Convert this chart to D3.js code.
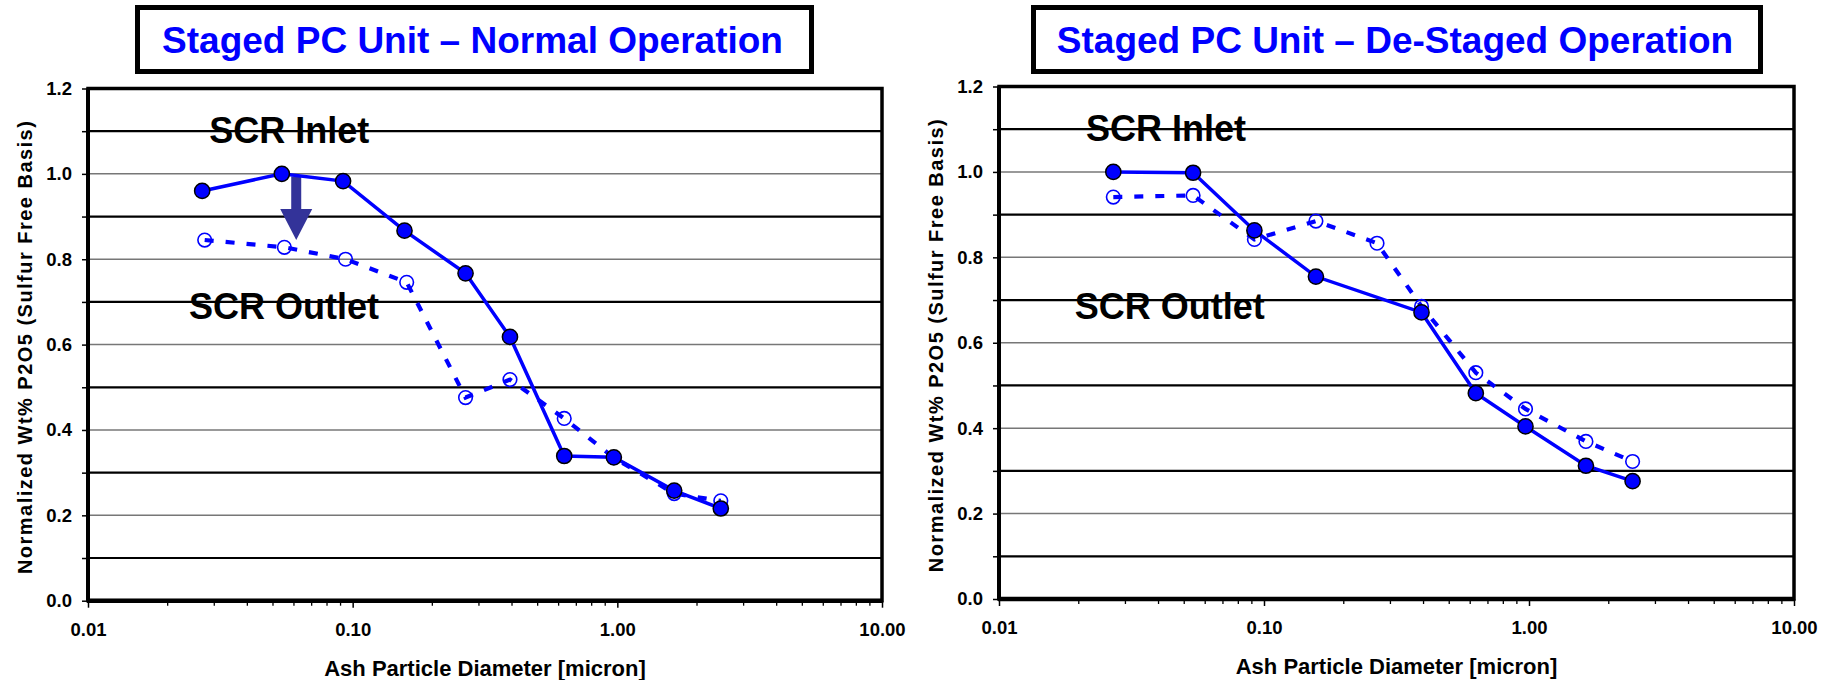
<!DOCTYPE html>
<html>
<head>
<meta charset="utf-8">
<script src="https://cdn.jsdelivr.net/npm/d3@7"></script>
<style>
  html, body { margin: 0; padding: 0; background: #ffffff; }
  svg { display: block; }
  text { font-family: "Liberation Sans", Arial, sans-serif; font-weight: bold; }
</style>
</head>
<body>
<svg id="chart" width="1824" height="680"></svg>
<script>
// Particle diameters (micron) for each impactor stage
const inletDiameters = [0.027, 0.054, 0.092, 0.157, 0.267, 0.393, 0.63, 0.97, 1.64, 2.46];
const outletDiameters = [0.0276, 0.0552, 0.094, 0.16, 0.267, 0.393, 0.63, 0.97, 1.64, 2.46];
const destagedInletDiameters = [0.027, 0.054, 0.092, 0.157, 0.393, 0.63, 0.97, 1.64, 2.46];

// Normalized wt% P2O5, normal (staged) operation
const normalInlet = [0.960, 1.000, 0.983, 0.867, 0.767, 0.618, 0.339, 0.336, 0.258, 0.216];
const normalOutlet = [0.845, 0.828, 0.800, 0.746, 0.476, 0.518, 0.427, 0.335, 0.251, 0.234];

// Normalized wt% P2O5, de-staged operation
const destagedInlet = [1.000, 0.998, 0.863, 0.755, 0.671, 0.482, 0.404, 0.312, 0.276];
const destagedOutlet = [0.941, 0.945, 0.842, 0.885, 0.833, 0.685, 0.530, 0.445, 0.369, 0.322];

// Axis ticks
const yTicks = [0.0, 0.2, 0.4, 0.6, 0.8, 1.0, 1.2];
const yGrid = [0.1, 0.2, 0.3, 0.4, 0.5, 0.6, 0.7, 0.8, 0.9, 1.0, 1.1];
const xTicks = [0.01, 0.1, 1, 10];

const panelTitles = ["Staged PC Unit \u2013 Normal Operation", "Staged PC Unit \u2013 De-Staged Operation"];
const xTitle = "Ash Particle Diameter [micron]";
const yTitle = "Normalized Wt% P2O5 (Sulfur Free Basis)";
const inletLabel = "SCR Inlet";
const outletLabel = "SCR Outlet";

const blue = "#0000ff";
const svg = d3.select("#chart");

function drawPanel(cfg) {
  const g = svg.append("g");
  const x = d3.scaleLog().domain([0.01, 10]).range([cfg.left, cfg.right]);
  const y = d3.scaleLinear().domain([0, 1.2]).range([cfg.bottom, cfg.top]);

  // Title box
  g.append("rect")
    .attr("x", cfg.boxX0 + 2.5).attr("y", 7.5)
    .attr("width", cfg.boxX1 - cfg.boxX0 - 5).attr("height", 64)
    .attr("fill", "#fff").attr("stroke", "#000").attr("stroke-width", 5);
  g.append("text")
    .attr("x", (cfg.boxX0 + cfg.boxX1) / 2 - 2).attr("y", 53)
    .attr("text-anchor", "middle")
    .attr("font-size", 37).attr("fill", blue)
    .text(cfg.title);

  // Horizontal gridlines
  g.append("g").selectAll("line").data(yGrid).join("line")
    .attr("x1", cfg.left).attr("x2", cfg.right)
    .attr("y1", d => y(d)).attr("y2", d => y(d))
    .attr("stroke", d => Math.round(d * 10) % 2 === 1 ? "#000" : "#777")
    .attr("stroke-width", d => Math.round(d * 10) % 2 === 1 ? 2.2 : 1.5);

  // Y axis
  const yAxis = d3.axisLeft(y)
    .tickValues(d3.range(0, 13).map(i => i / 10))
    .tickSize(6)
    .tickFormat(d => yTicks.some(t => Math.abs(t - d) < 1e-9) ? d3.format(".1f")(d) : "");
  const ya = g.append("g").attr("transform", `translate(${cfg.left},0)`).call(yAxis);
  ya.select(".domain").remove();
  ya.selectAll(".tick line").attr("stroke", "#000").attr("stroke-width", 1.5);
  ya.selectAll(".tick text").attr("font-size", 18.5).attr("fill", "#000").attr("x", -16)
    .style("font-family", "'Liberation Sans', Arial, sans-serif").style("font-weight", "bold");

  // X axis (log) with minor ticks
  const minor = [];
  for (let e = -2; e < 1; e++) for (let m = 2; m <= 9; m++) minor.push(m * Math.pow(10, e));
  g.append("g").selectAll("line").data(minor).join("line")
    .attr("x1", d => x(d)).attr("x2", d => x(d))
    .attr("y1", cfg.bottom).attr("y2", cfg.bottom + 5)
    .attr("stroke", "#000").attr("stroke-width", 1.3);
  const xAxis = d3.axisBottom(x).tickValues(xTicks).tickSize(7).tickFormat(d3.format(".2f"));
  const xa = g.append("g").attr("transform", `translate(0,${cfg.bottom})`).call(xAxis);
  xa.select(".domain").remove();
  xa.selectAll(".tick line").attr("stroke", "#000").attr("stroke-width", 1.5);
  xa.selectAll(".tick text").attr("font-size", 18.5).attr("fill", "#000").attr("dy", 0).attr("y", 35)
    .style("font-family", "'Liberation Sans', Arial, sans-serif").style("font-weight", "bold");

  // Plot frame
  g.append("rect")
    .attr("x", cfg.left).attr("y", cfg.top)
    .attr("width", cfg.right - cfg.left).attr("height", cfg.bottom - cfg.top)
    .attr("fill", "none").attr("stroke", "#000").attr("stroke-width", 3.5);
  g.append("line")
    .attr("x1", cfg.left - 1).attr("x2", cfg.right + 1)
    .attr("y1", cfg.bottom).attr("y2", cfg.bottom)
    .attr("stroke", "#000").attr("stroke-width", 4.5);
  g.append("line")
    .attr("x1", cfg.left).attr("x2", cfg.left)
    .attr("y1", cfg.top).attr("y2", cfg.bottom)
    .attr("stroke", "#000").attr("stroke-width", 4);

  // Axis titles
  g.append("text")
    .attr("x", (cfg.left + cfg.right) / 2).attr("y", cfg.bottom + 75)
    .attr("text-anchor", "middle").attr("font-size", 22).attr("fill", "#000")
    .text(xTitle);
  g.append("text")
    .attr("transform", `translate(${cfg.left - 56},${(cfg.top + cfg.bottom) / 2 + 3}) rotate(-90)`)
    .attr("text-anchor", "middle").attr("font-size", 20).attr("fill", "#000")
    .attr("textLength", 453).attr("lengthAdjust", "spacing")
    .text(yTitle);

  // Annotation labels
  g.append("text").attr("x", x(cfg.inletLabelAt[0])).attr("y", y(cfg.inletLabelAt[1]))
    .attr("font-size", 36).attr("fill", "#000").text(inletLabel);
  g.append("text").attr("x", x(cfg.outletLabelAt[0])).attr("y", y(cfg.outletLabelAt[1]))
    .attr("font-size", 36).attr("fill", "#000").text(outletLabel);

  // Outlet series: dashed line with open circles
  const outletPts = cfg.outletX.map((d, i) => [d, cfg.outlet[i]]);
  const line = d3.line().x(d => x(d[0])).y(d => y(d[1]));
  g.append("path").datum(outletPts).attr("d", line)
    .attr("fill", "none").attr("stroke", blue).attr("stroke-width", 4.2)
    .attr("stroke-dasharray", "9,12");
  g.append("g").selectAll("circle").data(outletPts).join("circle")
    .attr("cx", d => x(d[0])).attr("cy", d => y(d[1])).attr("r", 6.8)
    .attr("fill", "none").attr("stroke", blue).attr("stroke-width", 1.6);

  // Optional arrow from inlet toward outlet
  if (cfg.arrow) {
    const ax = x(cfg.arrow.x), y0 = y(cfg.arrow.from), y1 = y(cfg.arrow.to);
    const hw = 16, sw = 5, hl = 31;
    g.append("path")
      .attr("d", `M${ax - sw},${y0} L${ax + sw},${y0} L${ax + sw},${y1 - hl} L${ax + hw},${y1 - hl} L${ax},${y1} L${ax - hw},${y1 - hl} L${ax - sw},${y1 - hl} Z`)
      .attr("fill", "#333399");
  }

  // Inlet series: solid line with filled circles
  const inletPts = cfg.inletX.map((d, i) => [d, cfg.inlet[i]]);
  g.append("path").datum(inletPts).attr("d", line)
    .attr("fill", "none").attr("stroke", blue).attr("stroke-width", 3.5);
  g.append("g").selectAll("circle").data(inletPts).join("circle")
    .attr("cx", d => x(d[0])).attr("cy", d => y(d[1])).attr("r", 7.6)
    .attr("fill", blue).attr("stroke", "#000").attr("stroke-width", 1.5);
}

drawPanel({
  left: 88, right: 882, top: 88.5, bottom: 600.7,
  boxX0: 135, boxX1: 814, title: panelTitles[0],
  inletX: inletDiameters, inlet: normalInlet,
  outletX: outletDiameters, outlet: normalOutlet,
  inletLabelAt: [0.0287, 1.072], outletLabelAt: [0.0241, 0.660],
  arrow: { x: 0.0612, from: 0.994, to: 0.845 }
});

drawPanel({
  left: 999, right: 1794, top: 86.5, bottom: 599,
  boxX0: 1031, boxX1: 1763, title: panelTitles[1],
  inletX: destagedInletDiameters, inlet: destagedInlet,
  outletX: inletDiameters, outlet: destagedOutlet,
  inletLabelAt: [0.0213, 1.072], outletLabelAt: [0.0193, 0.655],
  arrow: null
});
</script>
</body>
</html>
